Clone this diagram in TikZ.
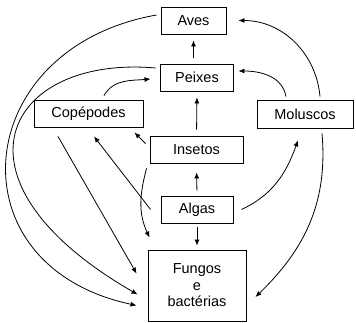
\documentclass[tikz,border=0pt]{standalone}
\usepackage{fontspec}
\setmainfont{Liberation Sans}
\usetikzlibrary{arrows.meta,calc}
\tikzset{
  box/.style={draw, line width=0.9pt, align=center, inner sep=0pt,
    font=\fontsize{14.5}{16.5}\selectfont, minimum height=27pt},
  arr/.style={-{Latex[length=6pt,width=5pt]}, line width=0.8pt},
}

\begin{document}
\begin{tikzpicture}[x=1pt, y=1pt]
        \useasboundingbox (0,0) rectangle (356,323);
        % boxes
        \node[box, minimum width=65pt] (aves) at (193.5,302.5) {Aves};
        \node[box, minimum width=73pt] (peixes) at (197,245.5) {Peixes};
        \node[box, minimum width=109pt] (copepodes) at (88.5,209.5) {Copépodes};
        \node[box, minimum width=96pt, minimum height=28pt] (moluscos) at (305,209) {Moluscos};
        \node[box, minimum width=93pt] (insetos) at (196.5,173.5) {Insetos};
        \node[box, minimum width=72pt] (algas) at (197,113.5) {Algas};
        \node[box, minimum width=98pt, minimum height=71pt] (fungos) at (197,37.5)
          {Fungos\\e\\bactérias};
        % straight arrows
        \draw[arr, shorten <=6pt, shorten >=6pt] (aves.south |- peixes.north) -- (aves.south);
        \draw[arr, shorten <=6pt, shorten >=6pt] (insetos.north) -- (peixes.south);
        \draw[arr, shorten <=5pt, shorten >=9pt] (algas.north) -- (insetos.south);
        \draw[arr, shorten <=4pt, shorten >=4pt] (algas.south) -- (fungos.north);
        \draw[arr] ($(insetos.north west)+(-4,-8)$) -- ($(copepodes.south east)+(-9,-5)$);
        \draw[arr] ($(algas.west)+(-10,0)$) -- ($(copepodes.south)+(5.5,-9)$);
        \draw[arr] ($(copepodes.south)+(-30.5,-9)$) -- ($(fungos.north west)+(-11,-24)$);
        % curved arrows
        \draw[arr] ($(copepodes.north)+(15.5,4)$) to[out=60, in=185]
          ($(peixes.west)+(-9.5,-1.5)$);
        \draw[arr] ($(moluscos.north)+(-19,3)$) to[out=100, in=0]
          ($(peixes.east)+(4.5,6.5)$);
        \draw[arr] ($(moluscos.north)+(15,3)$) to[out=95, in=0]
          ($(aves.east)+(12,0)$);
        \draw[arr] ($(algas.east)+(8,0)$) to[out=25, in=-110]
          ($(moluscos.south)+(-7,-12)$);
        \draw[arr] ($(insetos.south west)+(-3,-5)$) to[out=-105, in=115]
          ($(fungos.north west)+(2,12)$);
        \draw[arr] ($(moluscos.south)+(17,-5)$) to[out=-85, in=44]
          ($(fungos.east)+(9,-11.5)$);
        \draw[arr] ($(peixes.west)+(-4.5,9.5)$) to[out=175, in=150, out distance=150pt, in distance=230pt]
          ($(fungos.south west)+(-10,27)$);
        \draw[arr] ($(aves.west)+(-4,5.5)$) to[out=190, in=168, distance=190pt]
          ($(fungos.south west)+(-11,16)$);
      \end{tikzpicture}
\end{document}
